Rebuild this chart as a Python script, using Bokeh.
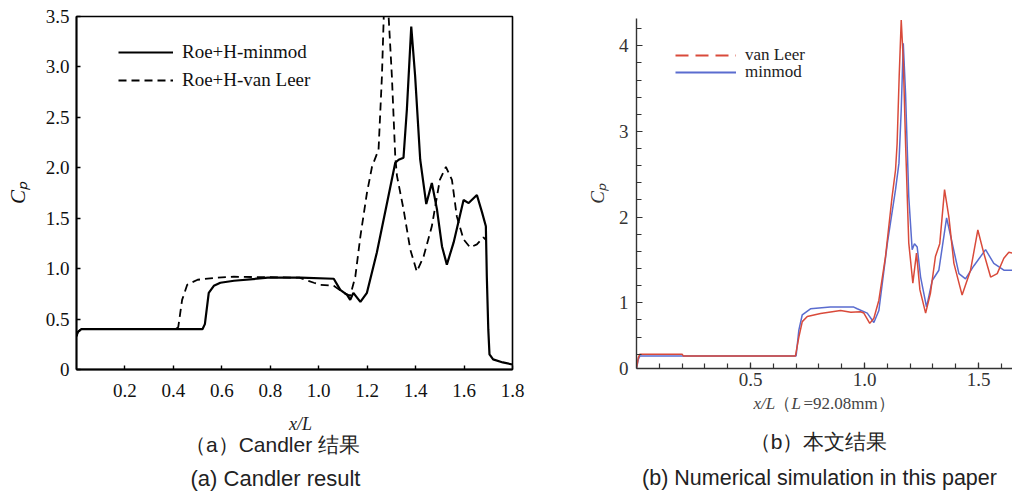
from bokeh.plotting import figure
from bokeh.layouts import row, column
from bokeh.models import Range1d, FixedTicker, Legend, LegendItem
from bokeh.core.properties import value
from bokeh.embed import file_html
from bokeh.resources import INLINE

# ---------------- data: panel (a) Candler result ----------------
a_minmod_x = [0, 0.005, 0.02, 0.3, 0.52, 0.53, 0.546, 0.567, 0.594, 0.65, 0.79, 0.924,
              1.062, 1.089, 1.117, 1.130, 1.143, 1.172, 1.199, 1.24, 1.282, 1.316, 1.33,
              1.35, 1.364, 1.382, 1.398, 1.419, 1.444, 1.467, 1.488, 1.509, 1.529, 1.557,
              1.598, 1.619, 1.653, 1.674, 1.690, 1.694, 1.70, 1.705, 1.72, 1.76, 1.8]
a_minmod_y = [0.33, 0.37, 0.40, 0.40, 0.40, 0.45, 0.76, 0.83, 0.86, 0.88, 0.91, 0.91,
              0.90, 0.79, 0.74, 0.69, 0.76, 0.67, 0.76, 1.16, 1.65, 2.05, 2.08,
              2.10, 2.58, 3.40, 2.91, 2.08, 1.64, 1.85, 1.59, 1.22, 1.04, 1.26,
              1.68, 1.65, 1.73, 1.56, 1.42, 0.92, 0.40, 0.15, 0.10, 0.07, 0.05]
a_vanleer_x = [0, 0.005, 0.02, 0.41, 0.42, 0.436, 0.457, 0.50, 0.58, 0.65, 0.92, 0.98,
               1.007, 1.062, 1.103, 1.13, 1.151, 1.172, 1.199, 1.22, 1.247, 1.261, 1.271,
               1.278, 1.284, 1.302, 1.316, 1.323, 1.35, 1.378, 1.405, 1.433, 1.467, 1.50,
               1.525, 1.55, 1.57, 1.598, 1.625, 1.653, 1.680, 1.688]
a_vanleer_y = [0.33, 0.37, 0.40, 0.40, 0.42, 0.69, 0.84, 0.89, 0.91, 0.92, 0.91, 0.86,
               0.84, 0.83, 0.76, 0.73, 0.92, 1.32, 1.75, 2.01, 2.18, 2.91, 3.70,
               3.80, 3.70, 2.91, 2.11, 1.92, 1.59, 1.19, 0.97, 1.12, 1.42, 1.88,
               2.01, 1.88, 1.52, 1.29, 1.21, 1.24, 1.31, 1.29]
a_xticks = [0.2, 0.4, 0.6, 0.8, 1.0, 1.2, 1.4, 1.6, 1.8]
a_xlabels = ["0.2", "0.4", "0.6", "0.8", "1.0", "1.2", "1.4", "1.6", "1.8"]
a_yticks = [0, 0.5, 1.0, 1.5, 2.0, 2.5, 3.0, 3.5]
a_ylabels = ["0", "0.5", "1.0", "1.5", "2.0", "2.5", "3.0", "3.5"]
a_legend = ["Roe+H-minmod", "Roe+H-van Leer"]
a_xtitle = "x/L"
a_ytitle = "C\u209a"
a_caption_cn = "（a）Candler 结果"
a_caption_en = "(a) Candler result"

# ---------------- data: panel (b) this paper ----------------
b_vanleer_x = [0, 0.008, 0.015, 0.2, 0.205, 0.697, 0.712, 0.727, 0.749, 0.807, 0.895, 0.94,
               0.982, 0.997, 1.023, 1.041, 1.063, 1.092, 1.121, 1.136, 1.143, 1.152, 1.161,
               1.17, 1.18, 1.194, 1.212, 1.228, 1.243, 1.268, 1.289, 1.311, 1.33, 1.351,
               1.37, 1.392, 1.428, 1.465, 1.497, 1.523, 1.553, 1.582, 1.611, 1.633, 1.649]
b_vanleer_y = [0.233, 0.36, 0.40, 0.40, 0.38, 0.38, 0.60, 0.78, 0.84, 0.875, 0.91, 0.89,
               0.895, 0.88, 0.76, 0.82, 1.03, 1.54, 2.24, 2.55, 2.86, 3.64, 4.30,
               3.83, 2.86, 1.70, 1.23, 1.58, 1.15, 0.88, 1.11, 1.54, 1.69, 2.32,
               2.00, 1.46, 1.09, 1.38, 1.85, 1.58, 1.30, 1.34, 1.52, 1.59, 1.58]
b_minmod_x = [0, 0.008, 0.015, 0.70, 0.712, 0.727, 0.763, 0.85, 0.953, 0.968, 1.012, 1.041,
              1.063, 1.10, 1.136, 1.151, 1.161, 1.17, 1.18, 1.194, 1.209, 1.219, 1.231,
              1.246, 1.272, 1.297, 1.326, 1.36, 1.385, 1.414, 1.443, 1.479, 1.531, 1.567,
              1.611, 1.649]
b_minmod_y = [0.233, 0.34, 0.38, 0.38, 0.68, 0.86, 0.93, 0.95, 0.95, 0.93, 0.88, 0.77,
              0.91, 1.69, 2.32, 2.63, 3.25, 4.03, 3.44, 2.24, 1.62, 1.69, 1.65,
              1.30, 0.95, 1.26, 1.38, 1.99, 1.69, 1.34, 1.28, 1.43, 1.62, 1.46,
              1.38, 1.38]
b_xticks = [0.5, 1.0, 1.5]
b_xlabels = ["0.5", "1.0", "1.5"]
b_yticks = [0.233, 1, 2, 3, 4]
b_ylabels = ["0", "1", "2", "3", "4"]
b_legend = ["van Leer", "minmod"]
b_ytitle = "C\u209a"
b_xtitle_parts = ["x/L", "（", "L", "=92.08mm）"]
b_caption_cn = "（b）本文结果"
b_caption_en = "(b) Numerical simulation in this paper"

SERIF = "Liberation Serif"
SANS = "Liberation Sans"
RED = "#d94a3a"
BLUE = "#5a6ccf"

W, H = 1012, 494
L_W = 560
R_W = W - L_W
P1_H = 400
P2_H = 393


def caption_fig(width, top, left_border, right_border, page_x0):
    # a text panel; its frame lines up with the chart frame above it,
    # data units are page pixels (y grows downwards)
    c = figure(width=width, height=H - top,
               x_range=Range1d(page_x0 + left_border, page_x0 + width - right_border),
               y_range=Range1d(H, top), output_backend="svg", toolbar_location=None,
               x_axis_type=None, y_axis_type=None, min_border_top=0, min_border_bottom=0,
               min_border_left=left_border, min_border_right=right_border)
    c.grid.visible = False
    c.outline_line_color = None
    return c


def put(c, x, y, text, font=SERIF, size="18px", style="normal", align="center",
        color="#222222"):
    c.text(x=[x], y=[y], text=[text], text_font=value(font), text_font_size=size,
           text_font_style=style, text_align=align, text_baseline="middle",
           text_color=color)


# ================= left figure =================
p1 = figure(width=L_W, height=P1_H, x_range=Range1d(0, 1.8), y_range=Range1d(0, 3.5),
            output_backend="svg", toolbar_location=None,
            min_border_left=76, min_border_right=L_W - 512, min_border_top=16,
            min_border_bottom=P1_H - 369)
p1.grid.visible = False
p1.outline_line_color = "black"
p1.outline_line_width = 1.6
p1.background_fill_color = None

r1 = p1.line(a_minmod_x, a_minmod_y, line_color="black", line_width=2.2)
r2 = p1.line(a_vanleer_x, a_vanleer_y, line_color="black", line_width=1.8, line_dash="8 5")

xa = p1.xaxis[0]
xa.ticker = FixedTicker(ticks=a_xticks, minor_ticks=[])
xa.major_label_overrides = {t: s for t, s in zip(a_xticks, a_xlabels)}
ya = p1.yaxis[0]
ya.ticker = FixedTicker(ticks=a_yticks, minor_ticks=[])
ya.major_label_overrides = {t: s for t, s in zip(a_yticks, a_ylabels)}
for ax in (xa, ya):
    ax.axis_line_color = "black"
    ax.axis_line_width = 1.8
    ax.major_tick_in = 4
    ax.major_tick_out = 0
    ax.major_tick_line_color = "black"
    ax.major_tick_line_width = 1.4
    ax.minor_tick_line_color = None
    ax.major_label_text_font = SERIF
    ax.major_label_text_font_size = "19px"
    ax.major_label_text_color = "#111111"
xa.major_label_standoff = 14
ya.major_label_standoff = 7
ya.axis_label = a_ytitle
ya.axis_label_text_font = SERIF
ya.axis_label_text_font_style = "italic"
ya.axis_label_text_font_size = "21px"
ya.axis_label_text_color = "#111111"
ya.axis_label_standoff = 13

leg1 = Legend(items=[LegendItem(label=a_legend[0], renderers=[r1]),
                     LegendItem(label=a_legend[1], renderers=[r2])],
              location=(42, 278), glyph_width=55, glyph_height=20, label_height=20,
              spacing=6, padding=0, margin=0, label_standoff=9,
              background_fill_alpha=0, border_line_color=None,
              label_text_font=SERIF, label_text_font_size="19px",
              label_text_color="#111111")
p1.add_layout(leg1)

c1 = caption_fig(L_W, P1_H, 76, L_W - 512, 0)
put(c1, 300, 423, a_xtitle, style="italic", size="18px")
put(c1, 272, 444, a_caption_cn, font=SANS, size="21px")
put(c1, 275, 478, a_caption_en, font=SANS, size="22px")

# ================= right figure =================
p2 = figure(width=R_W, height=P2_H, x_range=Range1d(0, 1.649), y_range=Range1d(0.233, 4.318),
            output_backend="svg", toolbar_location=None,
            min_border_left=636 - L_W, min_border_right=0, min_border_top=18,
            min_border_bottom=P2_H - 368)
p2.grid.visible = False
p2.outline_line_color = None
p2.background_fill_color = None

p2.line(b_minmod_x, b_minmod_y, line_color=BLUE, line_width=1.5)
p2.line(b_vanleer_x, b_vanleer_y, line_color=RED, line_width=1.5)
# one-point lines: invisible in the plot, they only give the legend its key styles
leg_red = p2.line(b_vanleer_x[:1], b_vanleer_y[:1], line_color=RED, line_width=1.8,
                  line_dash="13 7")
leg_blue = p2.line(b_minmod_x[:1], b_minmod_y[:1], line_color=BLUE, line_width=1.8)

xb = p2.xaxis[0]
xb.ticker = FixedTicker(ticks=b_xticks, minor_ticks=[round(0.1 * i, 1) for i in range(1, 17)])
xb.major_label_overrides = {t: s for t, s in zip(b_xticks, b_xlabels)}
yb = p2.yaxis[0]
yb.ticker = FixedTicker(ticks=b_yticks, minor_ticks=[round(0.2 * i, 1) for i in range(2, 22)])
yb.major_label_overrides = {t: s for t, s in zip(b_yticks, b_ylabels)}
for ax in (xb, yb):
    ax.axis_line_color = "#333333"
    ax.axis_line_width = 1.4
    ax.major_tick_in = 6
    ax.major_tick_out = 0
    ax.minor_tick_in = 5
    ax.minor_tick_out = 0
    ax.major_tick_line_color = "#333333"
    ax.minor_tick_line_color = "#333333"
    ax.major_tick_line_width = 1.2
    ax.minor_tick_line_width = 1.2
    ax.major_label_text_font = SERIF
    ax.major_label_text_font_size = "19px"
    ax.major_label_text_color = "#333333"
xb.major_label_standoff = 4
yb.major_label_standoff = 8
yb.axis_label = b_ytitle
yb.axis_label_text_font = SERIF
yb.axis_label_text_font_style = "italic"
yb.axis_label_text_font_size = "19px"
yb.axis_label_text_color = "#333333"
yb.axis_label_standoff = 8

for item_label, rend, ybot in ((b_legend[0], leg_red, 303), (b_legend[1], leg_blue, 286)):
    p2.add_layout(Legend(items=[LegendItem(label=item_label, renderers=[rend])],
                         location=(39, ybot), glyph_width=61, glyph_height=16,
                         label_height=16, spacing=0, padding=0, margin=0,
                         label_standoff=9, background_fill_alpha=0,
                         border_line_color=None, label_text_font=SERIF,
                         label_text_font_size="17px", label_text_color="#222222",
                         label_text_line_height=0.9))

c2 = caption_fig(R_W, P2_H, 636 - L_W, 0, L_W)
put(c2, 753, 403, b_xtitle_parts[0], style="italic", size="17px", align="left",
    color="#444444")
put(c2, 773, 403, b_xtitle_parts[1], size="17px", align="left", color="#444444")
put(c2, 791, 403, b_xtitle_parts[2], style="italic", size="17px", align="left",
    color="#444444")
put(c2, 803, 403, b_xtitle_parts[3], size="17px", align="left", color="#444444")
put(c2, 818, 441, b_caption_cn, font=SANS, size="21px")
put(c2, 819, 477, b_caption_en, font=SANS, size="21.5px")

layout = row(column(p1, c1, spacing=0), column(p2, c2, spacing=0), spacing=0)
open("out.html", "w").write(file_html(layout, INLINE))
